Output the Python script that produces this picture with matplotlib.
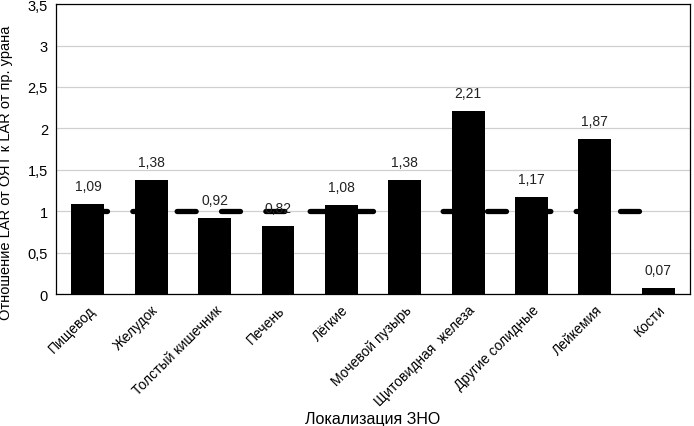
import numpy as np
import matplotlib.pyplot as plt

plt.rcParams['font.family'] = ['Liberation Sans', 'DejaVu Sans']

# Локализации и значения
categories = ['Пищевод', 'Желудок', 'Толстый кишечник', 'Печень', 'Лёгкие',
              'Мочевой пузырь', 'Щитовидная  железа', 'Другие солидные',
              'Лейкемия', 'Кости']
values = [1.09, 1.38, 0.92, 0.82, 1.08, 1.38, 2.21, 1.17, 1.87, 0.07]
reference = [1] * len(categories)

x = np.arange(len(categories))

fig = plt.figure(figsize=(6.94, 4.27), dpi=100)
ax = fig.add_axes([0.081, 0.309, 0.913, 0.679])

ax.bar(x, values, width=0.52, color='black', zorder=2)
ax.plot(x, reference, color='black', linewidth=3.8, dashes=(3.6, 4.8),
        dash_capstyle='round', solid_capstyle='round', zorder=3)

for xi, v in zip(x, values):
    ax.text(xi, v + 0.13, f"{v:.2f}".replace('.', ','), ha='center', va='bottom',
            fontsize=10, color='#222222', zorder=4)

ax.set_xlim(-0.5, len(categories) - 0.5)
ax.set_ylim(0, 3.5)
yt = np.arange(0, 3.51, 0.5)
ax.set_yticks(yt)
ax.set_yticklabels([f"{t:g}".replace('.', ',') for t in yt], fontsize=10.5)
ax.set_xticks(x)
ax.set_xticklabels(categories, rotation=45, ha='right', rotation_mode='anchor',
                   fontsize=10)
ax.tick_params(length=0, pad=6)
ax.grid(axis='y', color='#d0d0d0', linewidth=0.9, zorder=0)
ax.set_axisbelow(True)
for s in ax.spines.values():
    s.set_color('black')
    s.set_linewidth(0.9)

ax.set_xlabel('Локализация ЗНО', fontsize=11.5, labelpad=2)
ax.set_ylabel('Отношение LAR от ОЯТ к LAR от пр. урана', fontsize=10.5)
ax.yaxis.set_label_coords(-0.068, 0.42)

plt.savefig('out.png', dpi=100)
